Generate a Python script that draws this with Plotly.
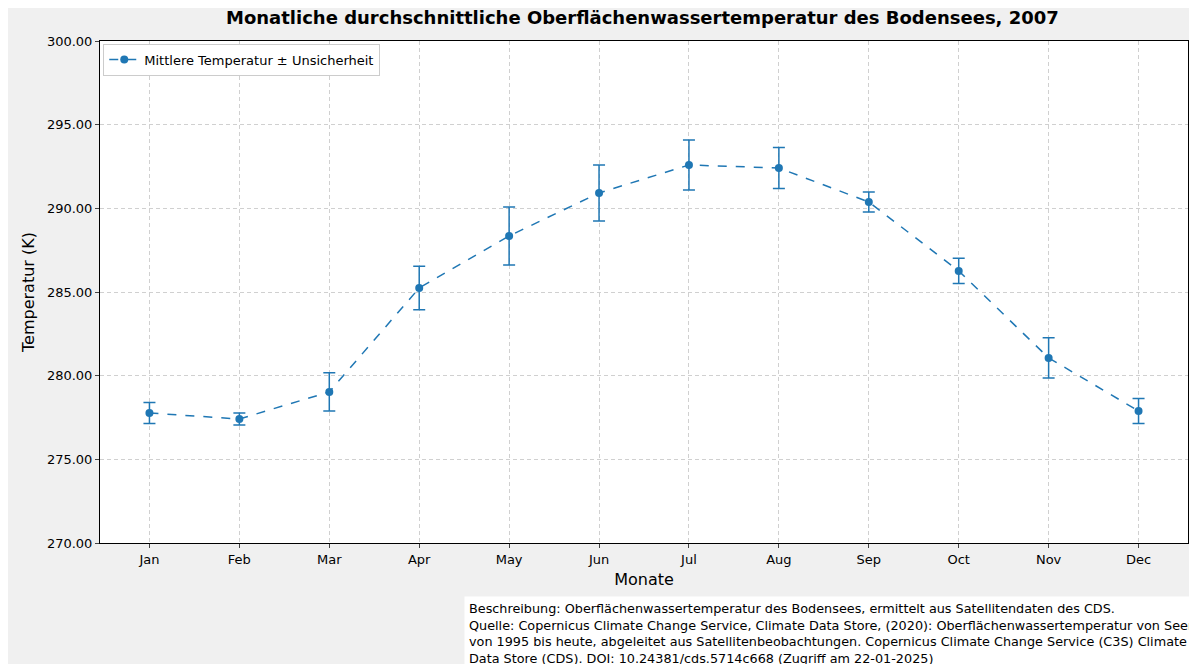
import plotly.graph_objects as go

monate = ["Jan", "Feb", "Mar", "Apr", "May", "Jun", "Jul", "Aug", "Sep", "Oct", "Nov", "Dec"]
temperatur = [277.77, 277.41, 279.03, 285.24, 288.35, 290.92, 292.59, 292.41, 290.38, 286.26, 281.06, 277.89]
unsicherheit = [0.63, 0.36, 1.14, 1.30, 1.73, 1.67, 1.49, 1.23, 0.60, 0.75, 1.20, 0.75]

quelle = ("Beschreibung: Oberflächenwassertemperatur des Bodensees, ermittelt aus Satellitendaten des CDS.<br>"
          "Quelle: Copernicus Climate Change Service, Climate Data Store, (2020): Oberflächenwassertemperatur von Seen<br>"
          "von 1995 bis heute, abgeleitet aus Satellitenbeobachtungen. Copernicus Climate Change Service (C3S) Climate<br>"
          "Data Store (CDS). DOI: 10.24381/cds.5714c668 (Zugriff am 22-01-2025)")

blau = "#1f77b4"
fig = go.Figure()
fig.add_trace(go.Scatter(
    x=monate, y=temperatur, mode="lines+markers",
    name="Mittlere Temperatur ± Unsicherheit",
    line=dict(color=blau, dash="dash", width=1.5),
    marker=dict(size=8, color=blau),
    error_y=dict(type="data", array=unsicherheit, color=blau, thickness=1.5, width=6),
))

fig.update_layout(
    width=1197, height=664,
    paper_bgcolor="#f0f0f0", plot_bgcolor="white",
    margin=dict(l=92, r=17, t=33, b=129, autoexpand=False),
    font=dict(family="DejaVu Sans", size=13, color="black"),
    title=dict(text="<b>Monatliche durchschnittliche Oberflächenwassertemperatur des Bodensees, 2007</b>",
               x=0.53, xanchor="center", y=0.995, yanchor="top", font=dict(size=18)),
    showlegend=True,
    legend=dict(x=0.003, y=0.995, xanchor="left", yanchor="top", bgcolor="white",
                bordercolor="#cccccc", borderwidth=1, font=dict(size=13)),
    xaxis=dict(title=dict(text="Monate", font=dict(size=16), standoff=8), showgrid=True,
               gridcolor="#d0d0d0", griddash="4px,3px", showline=True, linecolor="black", mirror=True,
               ticks="outside", ticklen=4, range=[-0.55, 11.55], automargin=False),
    yaxis=dict(title=dict(text="Temperatur (K)", font=dict(size=16), standoff=8), range=[270, 300],
               dtick=5, tickformat=".2f", showgrid=True, gridcolor="#d0d0d0", griddash="4px,3px",
               showline=True, linecolor="black", mirror=True, ticks="outside", ticklen=4,
               zeroline=False, automargin=False),
)
fig.add_annotation(text=quelle, xref="paper", yref="paper", x=1.012, y=-0.105,
                   xanchor="right", yanchor="top", align="left", showarrow=False,
                   bgcolor="white", borderpad=4, font=dict(size=12.8))
fig.write_html("out.html")
